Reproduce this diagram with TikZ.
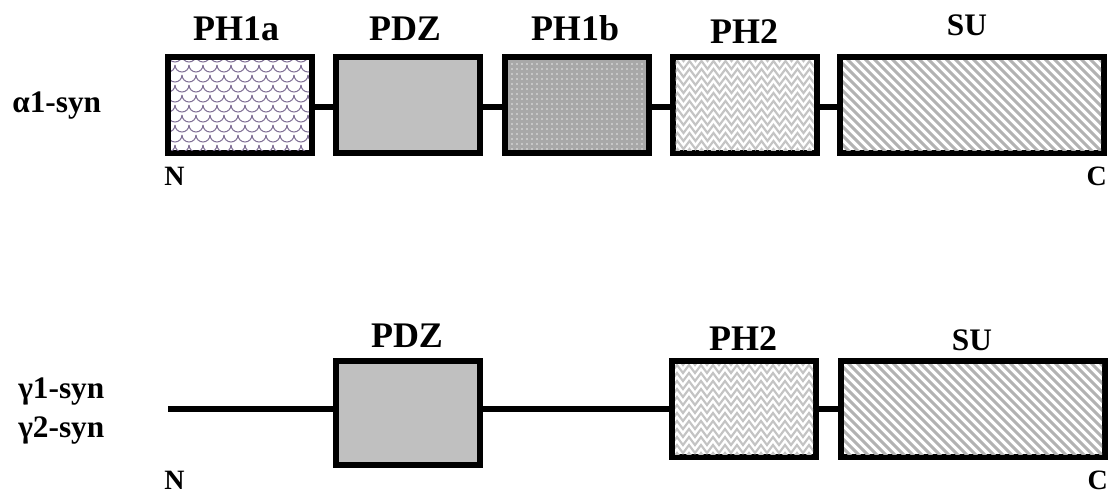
\documentclass[tikz,border=0pt]{standalone}
\usepackage{fontspec}
\setmainfont{Liberation Serif}
\usetikzlibrary{decorations.pathmorphing}
\definecolor{scalecol}{RGB}{128,112,150}
\definecolor{pdzgray}{RGB}{192,192,192}
\definecolor{dotbg}{RGB}{168,168,168}
\definecolor{dotfg}{RGB}{232,232,232}
\definecolor{herr}{RGB}{196,196,196}
\definecolor{stripe}{RGB}{178,178,178}
\tikzset{
  dom/.style={draw=black, line width=4.5pt, minimum width=108pt, minimum height=72pt, inner sep=0pt, outer sep=0pt},
  link/.style={draw=black, line width=4.5pt},
  lab/.style={anchor=base, inner sep=0pt, font=\fontsize{27}{30}\selectfont\bfseries},
  labsu/.style={anchor=base, inner sep=0pt, font=\fontsize{23.5}{28}\selectfont\bfseries},
  term/.style={inner sep=0pt, font=\fontsize{21}{25}\selectfont\bfseries},
  protname/.style={anchor=base west, inner sep=0pt, font=\fontsize{23.5}{27}\selectfont\bfseries},
  scaleline/.style={scalecol, line width=0.8pt},
  dotmark/.style={fill=dotfg},
  herrline/.style={herr, line width=1.6pt, decorate, decoration={zigzag, segment length=9pt, amplitude=3pt}},
  stripeline/.style={stripe, line width=2.2pt},
  pdzfill/.style={fill=pdzgray},
  dotsfill/.style={fill=dotbg},
  whitefill/.style={fill=white}
}
% clip to the inside of a node and put the origin at its top-left corner
\newcommand\insidebox[2]{%
  \begin{scope}
    \clip ([shift={(3,3)}]#1.north west) rectangle ([shift={(-3,-3)}]#1.south east);
    \begin{scope}[shift={(#1.north west)}]#2\end{scope}
  \end{scope}}
\newcommand\patscales[1]{\insidebox{#1}{%
  \foreach \r in {0,...,11}{\foreach \c in {-1,...,12}{
    \pgfmathsetmacro\xx{\c*14+mod(\r,2)*7}
    \draw[scaleline] (\xx,\r*10-2) arc[start angle=180,end angle=0,radius=7];
  }}}}
\newcommand\patdots[1]{\insidebox{#1}{%
  \foreach \r in {0,...,20}{\foreach \c in {0,...,30}{
    \fill[dotmark] (\c*5+2,\r*5+2) circle[radius=0.7pt];
  }}}}
\newcommand\patherring[1]{\insidebox{#1}{%
  \foreach \r in {0,...,14}{
    \draw[herrline] (-10,\r*8) -- (170,\r*8);
  }}}
\newcommand\patstripes[1]{\insidebox{#1}{%
  \foreach \k in {-14,...,32}{
    \draw[stripeline] (\k*9,-5) -- (\k*9+115,110);
  }}}
\begin{document}
\begin{tikzpicture}[x=0.75pt,y=-0.75pt]
\useasboundingbox (0,0) rectangle (1113,493);

% ---- top row (alpha1-syn)
\node[dom, whitefill] (a1) at (240,105) {};
\node[dom, pdzfill]   (a2) at (408,105) {};
\node[dom, dotsfill]  (a3) at (577,105) {};
\node[dom, whitefill] (a4) at (744.5,105) {};
\node[dom, whitefill, minimum width=198pt] (a5) at (972,105) {};
\patscales{a1}
\patdots{a3}
\patherring{a4}
\patstripes{a5}
\draw[link] ([yshift=-1.5pt]a1.east) -- ([yshift=-1.5pt]a2.west);
\draw[link] ([yshift=-1.5pt]a2.east) -- ([yshift=-1.5pt]a3.west);
\draw[link] ([yshift=-1.5pt]a3.east) -- ([yshift=-1.5pt]a4.west);
\draw[link] ([yshift=-1.5pt]a4.east) -- ([yshift=-1.5pt]a5.west);

\node[lab]   (la1) at (236,40) {PH1a};
\node[lab]   (la2) at (405,40) {PDZ};
\node[lab]   (la3) at (575,40) {PH1b};
\node[lab]   (la4) at (744,43) {PH2};
\node[labsu] (la5) at (967,35) {SU};

\node[protname] (alpha) at (12,112) {α1-syn};
\node[term, anchor=base west] (n1) at (164,185) {N};
\node[term, anchor=base east] (c1) at (1107,185) {C};

% ---- bottom row (gamma-syn)
\coordinate (nstart) at (168,409);
\node[dom, pdzfill, minimum height=78pt] (b2) at (408,413) {};
\node[dom, whitefill] (b4) at (744,409) {};
\node[dom, whitefill, minimum width=198pt] (b5) at (973,409) {};
\patherring{b4}
\patstripes{b5}
\draw[link] (nstart) -- (b2.west |- nstart);
\draw[link] (b2.east |- nstart) -- (b4.west);
\draw[link] (b4.east) -- (b5.west);

\node[lab]   (lb2) at (407,347) {PDZ};
\node[lab]   (lb4) at (743,350) {PH2};
\node[labsu] (lb5) at (972,350) {SU};

\node[protname] (g1) at (18,398) {γ1-syn};
\node[protname] (g2) at (18,437) {γ2-syn};
\node[term, anchor=base west] (n2) at (164,489) {N};
\node[term, anchor=base east] (c2) at (1108,489) {C};
\end{tikzpicture}
\end{document}
